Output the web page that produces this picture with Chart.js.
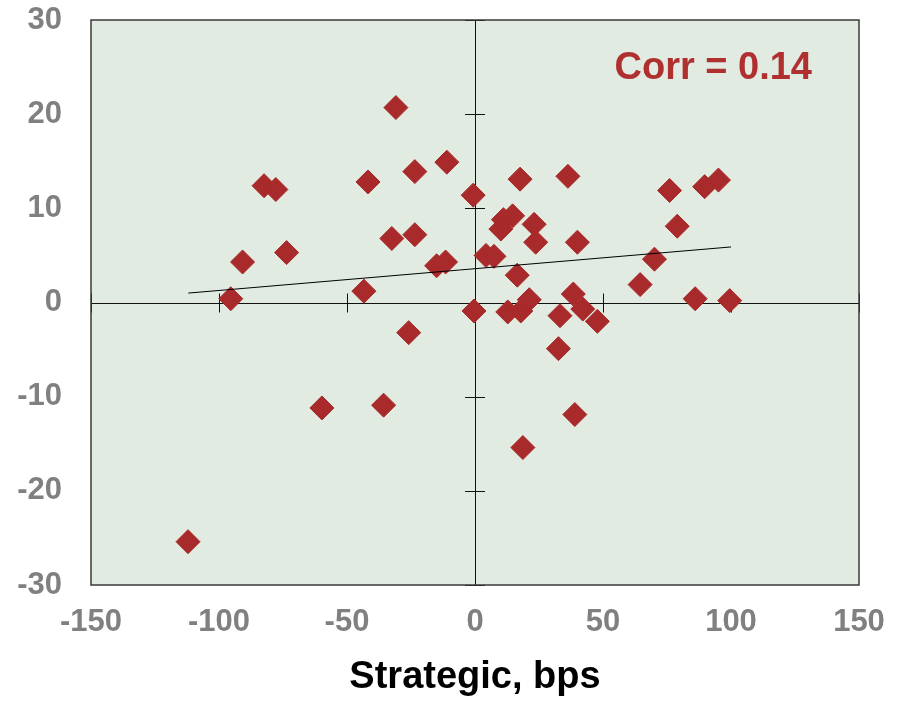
<!DOCTYPE html>
<html>
<head>
<meta charset="utf-8">
<script src="https://cdn.jsdelivr.net/npm/chart.js@4/dist/chart.umd.min.js"></script>
<style>
  html, body { margin: 0; padding: 0; background: #fff; }
  canvas { display: block; }
</style>
</head>
<body>
<canvas id="scatter" width="903" height="701"></canvas>
<script>
// Points (Strategic en bps, rendement en %)
const strategicX = [
  -112.1, -95.4, -90.8, -82.4, -77.8, -73.6, -59.8, -43.4, -41.8, -35.7,
  -32.5, -30.9, -25.9, -23.5, -23.5, -15.0, -11.5, -11.0, -0.7, -0.4,
  4.3, 7.4, 10.1, 11.1, 14.7, 12.8, 16.5, 17.6, 18.7, 17.9,
  21.2, 23.1, 23.7, 32.6, 33.2, 36.3, 38.4, 40.0, 39.0, 42.1,
  47.8, 64.5, 70.1, 76.0, 79.0, 86.0, 89.7, 95.1, 99.5
];
const returnY = [
  -25.4, 0.4, 4.3, 12.4, 12.0, 5.3, -11.2, 1.2, 12.8, -10.9,
  6.8, 20.7, -3.2, 7.2, 13.9, 3.9, 4.3, 14.9, 11.4, -0.9,
  5.0, 4.9, 7.8, 8.8, 9.2, -1.0, 2.9, 13.1, -15.4, -0.9,
  0.3, 8.3, 6.4, -4.9, -1.4, 13.4, 0.9, 6.4, -11.9, -0.7,
  -2.0, 1.9, 4.6, 11.9, 8.1, 0.4, 12.3, 13.0, 0.2
];

// Droite de tendance (extrémités)
const trendX = [-112, 100];
const trendY = [1.0, 5.9];

const xTicks = [-150, -100, -50, 0, 50, 100, 150];
const yTicks = [-30, -20, -10, 0, 10, 20, 30];
const corrLabel = 'Corr = 0.14';
const xTitle = 'Strategic, bps';

const red = '#A82A2A';
const fontFamily = "'Liberation Sans', Arial, sans-serif";

// Fond, cadre et axes croisés en zéro
const axesPlugin = {
  id: 'axesPlugin',
  beforeDatasetsDraw(chart) {
    const { ctx, chartArea, scales } = chart;
    const x0 = scales.x.getPixelForValue(0);
    const y0 = scales.y.getPixelForValue(0);
    ctx.save();
    ctx.fillStyle = '#E1EBE1';
    ctx.fillRect(chartArea.left, chartArea.top, chartArea.width, chartArea.height);

    ctx.strokeStyle = '#111';
    ctx.lineWidth = 1;
    ctx.beginPath();
    ctx.moveTo(chartArea.left, Math.round(y0) + 0.5);
    ctx.lineTo(chartArea.right, Math.round(y0) + 0.5);
    ctx.moveTo(Math.round(x0) + 0.5, chartArea.top);
    ctx.lineTo(Math.round(x0) + 0.5, chartArea.bottom);
    xTicks.forEach(v => {
      if (v === 0) return;
      const px = Math.round(scales.x.getPixelForValue(v)) + 0.5;
      ctx.moveTo(px, y0 - 9);
      ctx.lineTo(px, y0 + 10);
    });
    yTicks.forEach(v => {
      if (v === 0) return;
      const py = Math.round(scales.y.getPixelForValue(v)) + 0.5;
      ctx.moveTo(x0 - 10, py);
      ctx.lineTo(x0 + 10, py);
    });
    ctx.stroke();

    ctx.strokeStyle = '#3a3a3a';
    ctx.lineWidth = 1.5;
    ctx.strokeRect(chartArea.left, chartArea.top, chartArea.width, chartArea.height);
    ctx.restore();
  },
  afterDatasetsDraw(chart) {
    const { ctx, chartArea } = chart;
    ctx.save();
    ctx.fillStyle = '#B03030';
    ctx.font = 'bold 38px ' + fontFamily;
    ctx.textAlign = 'right';
    ctx.textBaseline = 'alphabetic';
    ctx.fillText(corrLabel, chartArea.right - 47, 79);
    ctx.restore();
  }
};

new Chart(document.getElementById('scatter'), {
  type: 'scatter',
  data: {
    datasets: [
      {
        type: 'line',
        data: trendX.map((x, i) => ({ x: x, y: trendY[i] })),
        borderColor: '#000',
        borderWidth: 1,
        pointRadius: 0,
        fill: false
      },
      {
        data: strategicX.map((x, i) => ({ x: x, y: returnY[i] })),
        backgroundColor: red,
        borderColor: red,
        borderWidth: 1,
        pointStyle: 'rectRot',
        pointRadius: 12,
        pointHoverRadius: 12
      }
    ]
  },
  options: {
    responsive: false,
    animation: false,
    layout: { padding: { top: 20, right: 44, left: 0, bottom: 0 } },
    plugins: {
      legend: { display: false },
      tooltip: { enabled: false }
    },
    scales: {
      x: {
        type: 'linear',
        min: -150,
        max: 150,
        afterBuildTicks: s => { s.ticks = xTicks.map(v => ({ value: v })); },
        grid: { display: false, drawTicks: false },
        border: { display: false },
        ticks: {
          padding: 19,
          color: '#808080',
          font: { family: fontFamily, size: 31, weight: 'bold' }
        },
        title: {
          display: true,
          text: xTitle,
          color: '#000',
          padding: { top: 0, bottom: 1 },
          font: { family: fontFamily, size: 38, weight: 'bold' }
        },
        afterFit: s => {
          s.height = 116;
          s.paddingLeft = 0;
          s.paddingRight = 0;
        }
      },
      y: {
        type: 'linear',
        min: -30,
        max: 30,
        afterBuildTicks: s => { s.ticks = yTicks.map(v => ({ value: v })); },
        grid: { display: false, drawTicks: false },
        border: { display: false },
        ticks: {
          padding: 29,
          color: '#808080',
          font: { family: fontFamily, size: 31, weight: 'bold' }
        },
        afterFit: s => {
          s.width = 91;
          s.paddingTop = 0;
          s.paddingBottom = 0;
        }
      }
    }
  },
  plugins: [axesPlugin]
});
</script>
</body>
</html>
